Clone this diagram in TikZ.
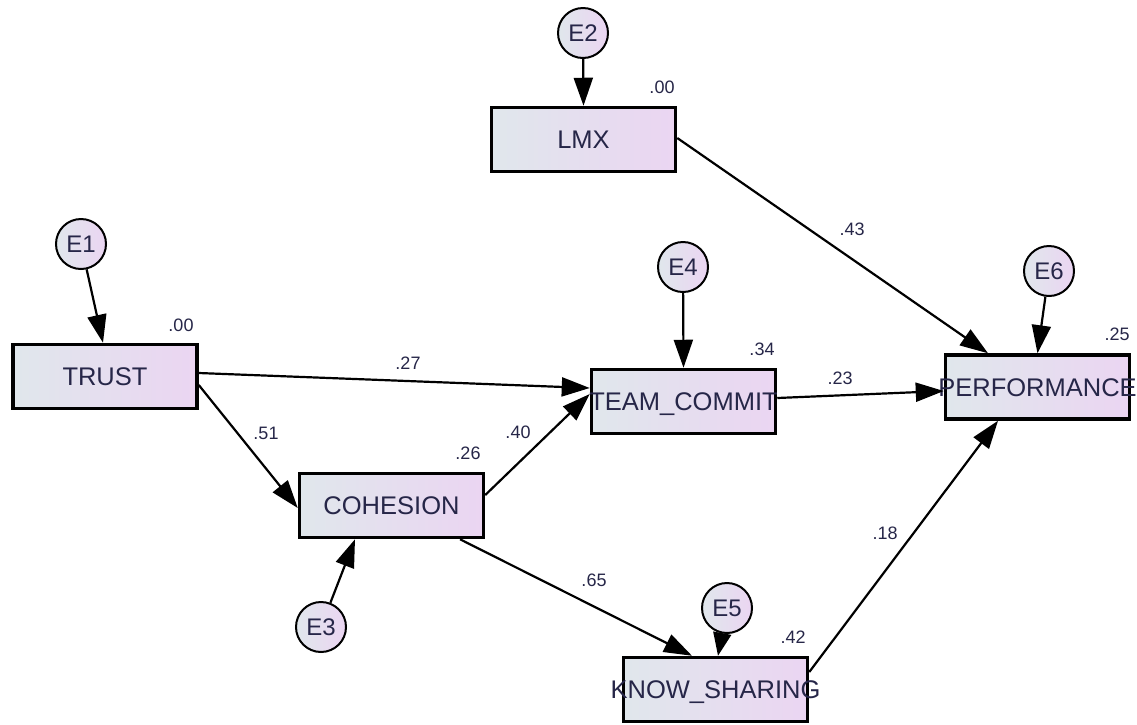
\documentclass[tikz,border=0pt]{standalone}
\usepackage{fontspec}
\setmainfont{Liberation Sans}
\usetikzlibrary{arrows.meta,calc}
\definecolor{txt}{RGB}{38,38,72}
\definecolor{fillL}{RGB}{224,231,236}
\definecolor{fillR}{RGB}{235,213,242}
\newcommand{\boxlabel}[1]{\makebox[0pt][c]{#1}}
\begin{document}
\begin{tikzpicture}[x=1pt,y=-1pt,
  var/.style={draw=black,line width=3.5pt,left color=fillL,right color=fillR,
    minimum width=184pt,minimum height=64pt,inner sep=0pt,text=txt,
    text height=18.3pt,text depth=0pt,
    font=\fontsize{25.5}{30}\selectfont},
  err/.style={circle,draw=black,line width=2pt,left color=fillL,right color=fillR,
    minimum size=50pt,inner sep=0pt,text=txt,font=\fontsize{24}{28}\selectfont},
  num/.style={text=txt,font=\fontsize{18}{21}\selectfont,inner sep=0pt},
  conn/.style={line width=2.2pt,-{Triangle[length=28pt,width=19pt]}},
  shortconn/.style={line width=2.2pt,-{Triangle[length=23pt,width=18pt]}}]
\useasboundingbox (0,0) rectangle (1137,724);
% observed variables
\node[var] (lmx)   at (583.5,139.5) {\boxlabel{LMX}};
\node[var] (trust) at (105,376.5)   {\boxlabel{TRUST}};
\node[var] (coh)   at (391.5,505.5) {\boxlabel{COHESION}};
\node[var] (team)  at (683.5,401.5) {\boxlabel{TEAM\_COMMIT}};
\node[var] (perf)  at (1037.5,387)  {\boxlabel{PERFORMANCE}};
\node[var] (know)  at (715.5,689.5) {\boxlabel{KNOW\_SHARING}};
% error terms
\node[err] (e1) at (81,244)   {E1};
\node[err] (e2) at (583,33)   {E2};
\node[err] (e3) at (321,627)  {E3};
\node[err] (e4) at (683,267)  {E4};
\node[err] (e5) at (727,608)  {E5};
\node[err] (e6) at (1049,271) {E6};
% paths
\draw[conn] ([yshift=3.5pt]trust.east) -- ([yshift=13.5pt]team.west);
\draw[conn] ([yshift=-8.5pt]trust.east) -- ([yshift=-2.5pt]coh.west);
\draw[conn] ([yshift=10.5pt]coh.east) -- ([yshift=7.5pt]team.west);
\draw[conn] ([yshift=3.5pt]team.east) -- ([yshift=-4pt]perf.west);
\draw[conn] ([yshift=1.5pt]lmx.east) -- ([xshift=-49.5pt]perf.north);
\draw[conn] ([yshift=17.5pt]know.east) -- ([xshift=-39.5pt]perf.south);
\draw[conn] ([xshift=68.5pt]coh.south) -- ([xshift=-23.5pt]know.north);
\draw[conn] (e1) -- ([xshift=-2pt]trust.north);
\draw[conn] (e2) -- (lmx.north);
\draw[conn] (e3) -- ([xshift=-36.5pt]coh.south);
\draw[conn] (e4) -- (team.north);
\draw[shortconn] (e5) -- ([xshift=2.5pt]know.north);
\draw[conn] (e6) -- (perf.north);
% squared multiple correlations
\node[num] (r2lmx)   at (662,87)   {.00};
\node[num] (r2trust) at (181,325)  {.00};
\node[num] (r2team)  at (762,349)  {.34};
\node[num] (r2perf)  at (1117,334) {.25};
\node[num] (r2coh)   at (468,453)  {.26};
\node[num] (r2know)  at (793,637)  {.42};
% path coefficients
\node[num] (c43) at (852,229) {.43};
\node[num] (c27) at (408,363) {.27};
\node[num] (c23) at (840,378) {.23};
\node[num] (c51) at (266,433) {.51};
\node[num] (c40) at (518,432) {.40};
\node[num] (c65) at (594,580) {.65};
\node[num] (c18) at (885,533) {.18};
\end{tikzpicture}
\end{document}
